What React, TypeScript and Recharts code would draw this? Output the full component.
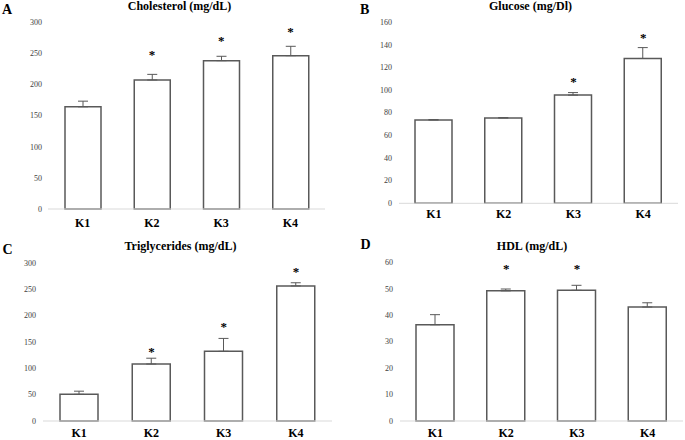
import { ComposedChart, Bar, ErrorBar, Scatter, XAxis, YAxis } from 'recharts'

const groups = ['K1', 'K2', 'K3', 'K4']

const cholesterol = [164, 207, 238, 246]
const cholesterolErr = [9, 9, 7, 15]
const cholesterolStars = [null, 251, 274, 288]
const cholesterolTicks = [0, 50, 100, 150, 200, 250, 300]

const glucose = [73.5, 75.3, 95.5, 127.8]
const glucoseErr = [0.4, 0.3, 2.2, 9.6]
const glucoseStars = [null, null, 109, 148]
const glucoseTicks = [0, 20, 40, 60, 80, 100, 120, 140, 160]

const triglycerides = [50.5, 108, 132, 256]
const triglyceridesErr = [6, 11, 24.5, 6]
const triglyceridesStars = [null, 136, 182, 287]
const triglyceridesTicks = [0, 50, 100, 150, 200, 250, 300]

const hdl = [36.4, 49.2, 49.4, 43.1]
const hdlErr = [3.8, 0.7, 1.9, 1.6]
const hdlStars = [null, 58.4, 58.4, null]
const hdlTicks = [0, 10, 20, 30, 40, 50, 60]

const SERIF = '"Liberation Serif", "Times New Roman", serif'
const DARK = '#595959'

function buildRows(values: number[], errs: number[], stars: (number | null)[]) {
  return groups.map((g, i) => ({ group: g, value: values[i], err: [0, errs[i]], star: stars[i] }))
}

function StarMark(props: any) {
  const { cx, cy, payload } = props
  if (payload == null || payload.star == null || cx == null || cy == null || isNaN(cy)) return <g />
  return (
    <text x={cx} y={cy + 6.5} textAnchor="middle" fontSize={13} fontWeight="bold" fontFamily={SERIF} fill="#000">
      *
    </text>
  )
}

interface PanelProps {
  left: number
  top: number
  width: number
  height: number
  yWidth: number
  marginTop: number
  marginRight: number
  xHeight: number
  xGap: number
  yGap: number
  barSize: number
  ticks: number[]
  values: number[]
  errs: number[]
  stars: (number | null)[]
}

function Panel(p: PanelProps) {
  const rows = buildRows(p.values, p.errs, p.stars)
  const max = p.ticks[p.ticks.length - 1]
  return (
    <div style={{ position: 'absolute', left: p.left, top: p.top }}>
      <ComposedChart
        width={p.width}
        height={p.height}
        data={rows}
        margin={{ top: p.marginTop, right: p.marginRight, left: 0, bottom: 0 }}
      >
        <XAxis
          dataKey="group"
          height={p.xHeight}
          axisLine={{ stroke: '#d9d9d9', strokeWidth: 1 }}
          tickLine={false}
          tickSize={0}
          tickMargin={p.xGap}
          tick={{ fontSize: 12, fontWeight: 'bold', fill: '#000', fontFamily: SERIF }}
        />
        <YAxis
          width={p.yWidth}
          domain={[0, max]}
          ticks={p.ticks}
          axisLine={false}
          tickLine={false}
          tickSize={0}
          tickMargin={p.yGap}
          tick={{ fontSize: 8, fill: '#404040', fontFamily: SERIF }}
        />
        <Bar dataKey="value" fill="#fff" stroke={DARK} strokeWidth={1.5} barSize={p.barSize} isAnimationActive={false}>
          <ErrorBar dataKey="err" width={5} stroke={DARK} strokeWidth={1} />
        </Bar>
        <Scatter dataKey="star" shape={<StarMark />} isAnimationActive={false} />
      </ComposedChart>
    </div>
  )
}

const titleStyle = {
  position: 'absolute' as const,
  fontFamily: SERIF,
  fontWeight: 'bold' as const,
  fontSize: 12,
  lineHeight: '12px',
  width: 200,
  textAlign: 'center' as const,
  whiteSpace: 'nowrap' as const,
  color: '#000',
}

const letterStyle = {
  position: 'absolute' as const,
  fontFamily: SERIF,
  fontWeight: 'bold' as const,
  fontSize: 14,
  lineHeight: '14px',
  color: '#000',
}

export default function App() {
  return (
    <div style={{ position: 'absolute', left: 0, top: 0, width: 685, height: 440, background: '#fff', overflow: 'hidden' }}>
      <Panel
        left={0} top={0} width={330} height={235} yWidth={48} marginTop={22} marginRight={5}
        xHeight={26} xGap={9} yGap={6} barSize={36}
        ticks={cholesterolTicks} values={cholesterol} errs={cholesterolErr} stars={cholesterolStars}
      />
      <Panel
        left={340} top={0} width={345} height={235} yWidth={59} marginTop={22} marginRight={7}
        xHeight={31.7} xGap={6} yGap={7} barSize={37}
        ticks={glucoseTicks} values={glucose} errs={glucoseErr} stars={glucoseStars}
      />
      <Panel
        left={0} top={220} width={340} height={220} yWidth={43} marginTop={42.7} marginRight={8}
        xHeight={19} xGap={7} yGap={7} barSize={38}
        ticks={triglyceridesTicks} values={triglycerides} errs={triglyceridesErr} stars={triglyceridesStars}
      />
      <Panel
        left={340} top={220} width={345} height={220} yWidth={60} marginTop={42.3} marginRight={2}
        xHeight={19} xGap={7} yGap={7} barSize={38}
        ticks={hdlTicks} values={hdl} errs={hdlErr} stars={hdlStars}
      />

      <div style={{ ...titleStyle, left: 79.5, top: 0 }}>Cholesterol (mg/dL)</div>
      <div style={{ ...titleStyle, left: 430.5, top: 0 }}>Glucose (mg/Dl)</div>
      <div style={{ ...titleStyle, left: 80.5, top: 239.6 }}>Triglycerides (mg/dL)</div>
      <div style={{ ...titleStyle, left: 432, top: 239.6 }}>HDL (mg/dL)</div>

      <div style={{ ...letterStyle, left: 2, top: 3 }}>A</div>
      <div style={{ ...letterStyle, left: 360, top: 2.5 }}>B</div>
      <div style={{ ...letterStyle, left: 2.5, top: 242.5 }}>C</div>
      <div style={{ ...letterStyle, left: 360.5, top: 237.5 }}>D</div>
    </div>
  )
}
